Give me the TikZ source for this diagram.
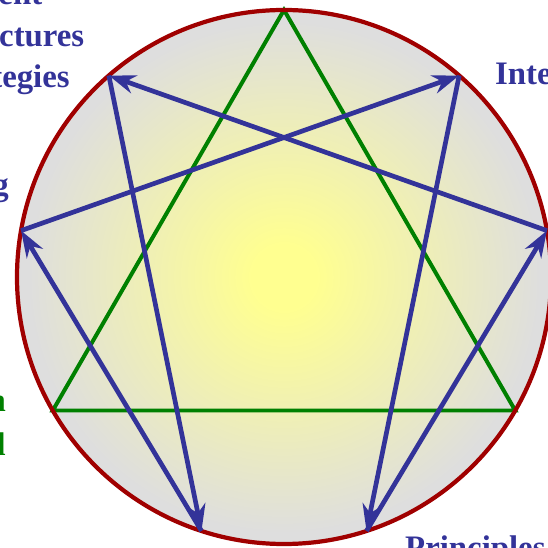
\documentclass[tikz,border=0pt]{standalone}
\usepackage{fontspec}
\setmainfont{Liberation Serif}
\usetikzlibrary{arrows.meta}
\definecolor{RimRed}{HTML}{A00000}
\definecolor{TriadGreen}{HTML}{008000}
\definecolor{HexadBlue}{HTML}{333399}
\definecolor{CoreYellow}{HTML}{FFFF90}
\definecolor{FaceGray}{HTML}{DEDEDE}
\pgfdeclareradialshading{enneaglow}{\pgfpointorigin}{color(0bp)=(CoreYellow); color(3bp)=(CoreYellow); color(24bp)=(FaceGray); color(50bp)=(FaceGray)}
\tikzset{
  rim/.style={draw=RimRed, line width=3.6pt},
  triad/.style={draw=TriadGreen, line width=3.4pt},
  hexad/.style={draw=HexadBlue, line width=4pt, -{Stealth[length=8mm,width=5.6mm,inset=2.6mm]}},
  lbl/.style={inner sep=0pt, font=\fontsize{28}{34}\selectfont\bfseries, text=HexadBlue}
}

\begin{document}
\begin{tikzpicture}[x=0.3mm, y=0.3mm]
      \useasboundingbox (-284,-270) rectangle (264,277);
      \clip (-284,-270) rectangle (264,277);
      % Enneagram points, 9 at the top
      \foreach \n/\ang in {1/49,2/10,3/-30,4/-72,5/-108,6/-150,7/170,8/131,9/90}
        \coordinate (p\n) at (\ang:267);
      % Circle face
      \shade[shading=enneaglow] (0,0) circle[radius=267];
      \draw[triad] (p9) -- (p3) -- (p6) -- cycle;
      \draw[rim] (0,0) circle[radius=267];
      % Hexad with arrows
      \foreach \a/\b in {1/4,4/2,2/8,8/5,5/7,7/1}
        \draw[hexad] (p\a) -- (p\b);
      % Labels
      \node[lbl, anchor=base west] (lblTop1) at (-355,272) {Content};
      \node[lbl, anchor=base west] (lblTop2) at (-347,230) {Structures};
      \node[lbl, anchor=base west] (lblTop3) at (-353,189) {Strategies};
      \node[lbl, anchor=base west] (lblRight) at (211,192) {Intent};
      \node[lbl, anchor=base east] (lblLeft) at (-275,81) {Learning};
      \node[lbl, anchor=base east, text=TriadGreen] (lblGreen1) at (-278,-134) {Action};
      \node[lbl, anchor=base east, text=TriadGreen] (lblGreen2) at (-278,-178) {Control};
      \node[lbl, anchor=base west] (lblBottom) at (121,-281) {Principles};
    \end{tikzpicture}
\end{document}
